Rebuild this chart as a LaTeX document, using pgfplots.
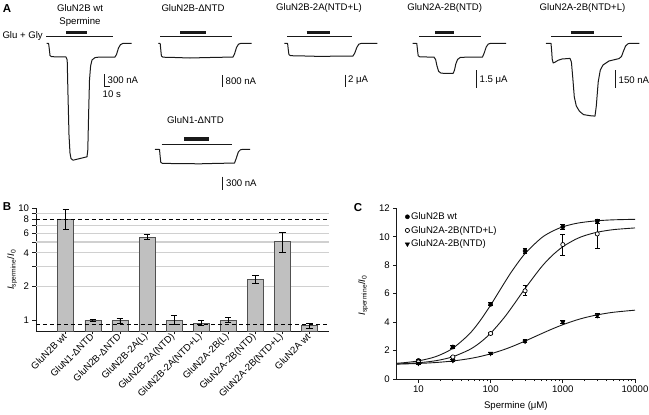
\documentclass[border=0pt]{standalone}
\usepackage{pgfplots}
\pgfplotsset{compat=1.18}
\usepackage{pgfplotstable}
\usepackage{fontspec}
\setmainfont{Liberation Sans}
\definecolor{barfill}{RGB}{192,192,192}
\definecolor{baredge}{RGB}{80,80,80}
\definecolor{gridc}{RGB}{208,208,208}
\definecolor{tr}{RGB}{25,25,25}
\pgfplotsset{/pgf/number format/assume math mode=true}

\pgfplotstableread{
x y ep em
0 8.0 1.7 1.5
1 1.0 0.02 0.02
2 0.99 0.05 0.05
3 5.5 0.35 0.27
4 1.0 0.10 0.09
5 0.94 0.05 0.045
6 1.0 0.05 0.05
7 2.3 0.2 0.19
8 5.03 1.0 1.0
9 0.9 0.04 0.05
}\ratio

\pgfplotstableread{
x y e
10 1.3 0.1
30 2.25 0.08
100 5.25 0.1
300 9.0 0.15
1000 10.7 0.15
3000 11.1 0.15
}\wt
\pgfplotstableread{
x y e
10 1.2 0.05
30 1.55 0.05
100 3.2 0.08
300 6.2 0.35
1000 9.45 0.75
3000 10.2 1.05
}\ntdl
\pgfplotstableread{
x y e
10 1.1 0.08
30 1.3 0.08
100 1.8 0.05
300 2.65 0.1
1000 4.0 0.12
3000 4.45 0.15
}\ntd

\begin{document}
\begin{tikzpicture}[font=\fontsize{9.6}{11.5}\selectfont]
\useasboundingbox (0,0) rectangle (649pt,-415pt);

% ---------------- Panel A (traces) ----------------
\begin{axis}[at={(0pt,0pt)}, anchor=north west, width=649pt, height=415pt,
  scale only axis, xmin=0, xmax=649, ymin=0, ymax=415, y dir=reverse,
  hide axis, clip=false]
% application bars
\addplot[tr, line width=0.9pt] coordinates {(46,36.7) (113.3,36.7)};
\addplot[tr, line width=3.2pt] coordinates {(66,32.3) (86.7,32.3)};
\addplot[tr, line width=0.9pt] coordinates {(160,36.7) (231.7,36.7)};
\addplot[tr, line width=3.2pt] coordinates {(180,32.3) (205.7,32.3)};
\addplot[tr, line width=0.9pt] coordinates {(287.3,36.7) (351.7,36.7)};
\addplot[tr, line width=3.2pt] coordinates {(306.7,32.3) (330,32.3)};
\addplot[tr, line width=0.9pt] coordinates {(419,36.7) (481,36.7)};
\addplot[tr, line width=3.2pt] coordinates {(435,32.3) (454.3,32.3)};
\addplot[tr, line width=0.9pt] coordinates {(551,36.7) (621.7,36.7)};
\addplot[tr, line width=3.2pt] coordinates {(570.7,32.3) (594.3,32.3)};
\addplot[tr, line width=0.9pt] coordinates {(161.7,144) (231.7,144)};
\addplot[tr, line width=3.2pt] coordinates {(184,139) (209,139)};
% traces
\addplot[tr, line width=1pt, line join=round] coordinates {
(46.7,43.3) (48.6,43.5) (49.3,49) (50,55.5) (51.5,56.7) (66,57) (67.2,60) (68,95) (69,135) (70,153) (71,158.5) (73,160.2)
(87,156.8) (87.8,150) (88.6,115) (89.5,80) (90.6,66) (92,60) (95,57.6) (100,57) (115,57) (116.5,54.5) (118.5,48) (120.5,44.6) (123,43.4) (131.7,43.3)};
\addplot[tr, line width=1pt, line join=round] coordinates {
(158.3,43.3) (160.2,43.5) (160.8,50) (161.4,56) (163,57.2) (175,57.5) (190,58) (205,57.6) (220,57.3) (233,57) (234.5,54) (236.5,47.5) (238.5,44.2) (241,43.3) (251.7,43.3)};
\addplot[tr, line width=1pt, line join=round] coordinates {
(284.3,43.3) (287.6,43.5) (288.2,49) (288.9,54.5) (290.5,55.7) (305,56) (320,56.4) (340,56.1) (353,56) (354.8,53) (356.8,47.5) (358.8,44.2) (361.5,43.3) (377.3,43.3)};
\addplot[tr, line width=1pt, line join=round] coordinates {
(412.7,43.3) (416.8,43.5) (417.5,50) (418.2,55.8) (420,56.9) (434,57.1) (435.6,59.5) (437,66) (438.6,71.3) (441,73.2) (453,73.5)
(454.4,70.5) (455.8,64) (457.6,59.4) (460.5,57.3) (482.5,57) (484.2,53) (486.2,47) (488.3,44) (491,43.3) (506,43.3)};
\addplot[tr, line width=1pt, line join=round] coordinates {
(546,43.3) (551,43.4) (551.6,50) (552.2,59) (553.2,63) (555,62.2) (558,60.3) (562,59) (570,58.4) (571.4,62) (572.8,78) (574.3,97)
(576.3,106) (579.5,111.3) (583.5,114.6) (590,115.7) (595,116.1) (596.3,106) (598.2,82) (600.3,70) (603,65) (609,61) (619,58.6) (621.5,56.5)
(623.5,51) (625.6,46) (628.2,43.6) (631,43.3) (639.3,43.3)};
\addplot[tr, line width=1pt, line join=round] coordinates {
(155,149.3) (159.5,149.5) (160.1,156) (160.8,162.4) (162.5,163.4) (180,163.6) (200,163.8) (220,163.3) (234.5,163.1) (236.2,158.5) (238.3,152) (240.4,149.8) (243,149.3) (250,149.3)};
% scale bars
\addplot[tr, line width=0.9pt] coordinates {(104.3,74) (104.3,86.7) (110,86.7)};
\addplot[tr, line width=0.9pt] coordinates {(222.3,75) (222.3,86.7)};
\addplot[tr, line width=0.9pt] coordinates {(345,74.5) (345,86.7)};
\addplot[tr, line width=0.9pt] coordinates {(476,70) (476,88.3)};
\addplot[tr, line width=0.9pt] coordinates {(615,70) (615,88.3)};
\addplot[tr, line width=0.9pt] coordinates {(222.3,176.7) (222.3,189.5)};
% texts
\node[font=\fontsize{11.5}{12}\selectfont\bfseries, anchor=center] at (axis cs:7,8.5) {A};
\node at (axis cs:80,8.3) {GluN2B wt};
\node at (axis cs:80,22.5) {Spermine};
\node[anchor=east, inner sep=1pt] at (axis cs:44,36.3) {Glu + Gly};
\node at (axis cs:193,8.3) {GluN2B-ΔNTD};
\node at (axis cs:319,8.3) {GluN2B-2A(NTD+L)};
\node at (axis cs:444.7,8.3) {GluN2A-2B(NTD)};
\node at (axis cs:582.5,8.3) {GluN2A-2B(NTD+L)};
\node at (axis cs:195.5,120) {GluN1-ΔNTD};
\node[anchor=west, inner sep=1pt] at (axis cs:106.5,80.3) {300 nA};
\node[anchor=west, inner sep=1pt] at (axis cs:101.5,94.5) {10 s};
\node[anchor=west, inner sep=1pt] at (axis cs:224.5,80.8) {800 nA};
\node[anchor=west, inner sep=1pt] at (axis cs:347,80.5) {2 μA};
\node[anchor=west, inner sep=1pt] at (axis cs:478.5,80) {1.5 μA};
\node[anchor=west, inner sep=1pt] at (axis cs:617.5,80) {150 nA};
\node[anchor=west, inner sep=1pt] at (axis cs:225,183.5) {300 nA};
\node[font=\fontsize{11.5}{12}\selectfont\bfseries, anchor=center] at (axis cs:7,206.5) {B};
\node[font=\fontsize{11.5}{12}\selectfont\bfseries, anchor=center] at (axis cs:358,207.5) {C};
\end{axis}

% ---------------- Panel B ----------------
\begin{axis}[at={(36pt,-208.3pt)}, anchor=north west, width=293pt, height=122.7pt,
  scale only axis, ymode=log, ymin=0.8, ymax=10, xmin=-1.1, xmax=9.72,
  log origin y=infty,
  axis x line*=bottom, axis y line*=left, axis line style={-, tr, line width=0.8pt},
  tick align=outside, major tick length=3.5pt, tick style={tr, line width=0.8pt},
  xtick={0,...,9},
  xticklabels={GluN2B wt, GluN1-ΔNTD, GluN2B-ΔNTD, GluN2B-2A(L), GluN2B-2A(NTD), GluN2B-2A(NTD+L), GluN2A-2B(L), GluN2A-2B(NTD), GluN2A-2B(NTD+L), GluN2A wt},
  xticklabel style={rotate=45, anchor=east, inner sep=1pt},
  ytick={1,2,3,4,5,6,7,8,9,10}, yticklabels={1,2,,4,,6,,8,,10},
  yminorticks=false, clip=false,
  ylabel={\textit{I}\textsubscript{spermine}/\textit{I}\textsubscript{0}},
  ylabel style={at={(axis description cs:-0.082,0.5)}, anchor=center},
]
\addplot[gridc, line width=1.1pt, forget plot] coordinates {(-1.1,2) (9.72,2)};
\addplot[gridc, line width=1.1pt, forget plot] coordinates {(-1.1,3) (9.72,3)};
\addplot[gridc, line width=1.1pt, forget plot] coordinates {(-1.1,4) (9.72,4)};
\addplot[gridc, line width=1.1pt, forget plot] coordinates {(-1.1,5) (9.72,5)};
\addplot[gridc, line width=1.1pt, forget plot] coordinates {(-1.1,6) (9.72,6)};
\addplot[gridc, line width=1.1pt, forget plot] coordinates {(-1.1,7) (9.72,7)};
\addplot[gridc, line width=1.1pt, forget plot] coordinates {(-1.1,9) (9.72,9)};
\addplot[ybar, bar width=16pt, bar shift=0pt, fill=barfill, draw=baredge, line width=0.7pt,
  error bars/.cd, y dir=both, y explicit,
  error bar style={black, line width=0.8pt},
  error mark options={rotate=90, mark size=3.2pt, line width=0.8pt}]
  table[x=x, y=y, y error plus=ep, y error minus=em] {\ratio};
\addplot[black, dash pattern=on 4pt off 3pt, line width=1.1pt] coordinates {(-1.1,8) (9.72,8)};
\addplot[black, dash pattern=on 4pt off 3pt, line width=1.1pt] coordinates {(-1.1,0.908) (9.72,0.908)};
\end{axis}

% ---------------- Panel C ----------------
\begin{axis}[at={(396.7pt,-208.3pt)}, anchor=north west, width=238.3pt, height=170.7pt,
  scale only axis, xmode=log, xmin=5, xmax=10000, ymin=0, ymax=12,
  axis x line*=bottom, axis y line*=left, axis line style={-, tr, line width=0.8pt},
  tick align=outside, major tick length=3.5pt, minor tick length=2pt,
  tick style={tr, line width=0.8pt},
  xtick={10,100,1000,10000}, xticklabels={10,100,1000,10000},
  ytick={0,2,4,6,8,10,12},
  xlabel={Spermine (μM)},
  xlabel style={at={(axis description cs:0.5,-0.16)}, anchor=center},
  ylabel={\textit{I}\textsubscript{spermine}/\textit{I}\textsubscript{0}},
  ylabel style={at={(axis description cs:-0.141,0.49)}, anchor=center},
  legend style={draw=none, fill=none, at={(axis description cs:0.035,0.985)}, anchor=north west,
    row sep=2.2pt, inner sep=0pt, nodes={inner sep=1.5pt}},
  legend cell align=left,
  legend image code/.code={\draw[#1] plot coordinates {(0.1cm,0cm)};},
  clip=false,
]
\addplot[tr, line width=0.9pt, smooth, forget plot] coordinates {
(5,1.106) (7,1.169) (10,1.275) (15,1.475) (20,1.695) (30,2.163) (50,3.131) (70,4.033) (100,5.193) (150,6.637)
(200,7.625) (300,8.82) (500,9.90) (700,10.36) (1000,10.70) (1500,10.93) (2000,11.03) (3000,11.125) (5000,11.19) (10000,11.226)};
\addplot[tr, line width=0.9pt, smooth, forget plot] coordinates {
(5,1.058) (7,1.090) (10,1.142) (15,1.238) (20,1.342) (30,1.566) (50,2.042) (70,2.523) (100,3.216) (150,4.240)
(200,5.091) (300,6.36) (500,7.846) (700,8.644) (1000,9.30) (1500,9.819) (2000,10.076) (3000,10.32) (5000,10.50) (10000,10.62)};
\addplot[tr, line width=0.9pt, smooth, forget plot] coordinates {
(5,1.047) (7,1.066) (10,1.093) (15,1.138) (20,1.182) (30,1.267) (50,1.426) (70,1.571) (100,1.769) (150,2.053)
(200,2.290) (300,2.667) (500,3.174) (700,3.5) (1000,3.817) (1500,4.125) (2000,4.306) (3000,4.509) (5000,4.690) (10000,4.839)};
\addplot[only marks, mark=*, mark size=2.1pt, mark options={fill=black, draw=black},
  error bars/.cd, y dir=both, y explicit, error bar style={black, line width=0.8pt},
  error mark options={rotate=90, mark size=2.4pt, line width=0.8pt}]
  table[x=x, y=y, y error=e] {\wt};
\addlegendentry{GluN2B wt}
\addplot[only marks, mark=*, mark size=2.1pt, mark options={fill=white, draw=black, line width=0.7pt},
  error bars/.cd, y dir=both, y explicit, error bar style={black, line width=0.8pt},
  error mark options={rotate=90, mark size=2.4pt, line width=0.8pt}]
  table[x=x, y=y, y error=e] {\ntdl};
\addlegendentry{GluN2A-2B(NTD+L)}
\addplot[only marks, mark=triangle*, mark size=2.5pt, mark options={fill=black, draw=black, rotate=180},
  error bars/.cd, y dir=both, y explicit, error bar style={black, line width=0.8pt},
  error mark options={rotate=90, mark size=2.4pt, line width=0.8pt}]
  table[x=x, y=y, y error=e] {\ntd};
\addlegendentry{GluN2A-2B(NTD)}
\end{axis}
\end{tikzpicture}
\end{document}
